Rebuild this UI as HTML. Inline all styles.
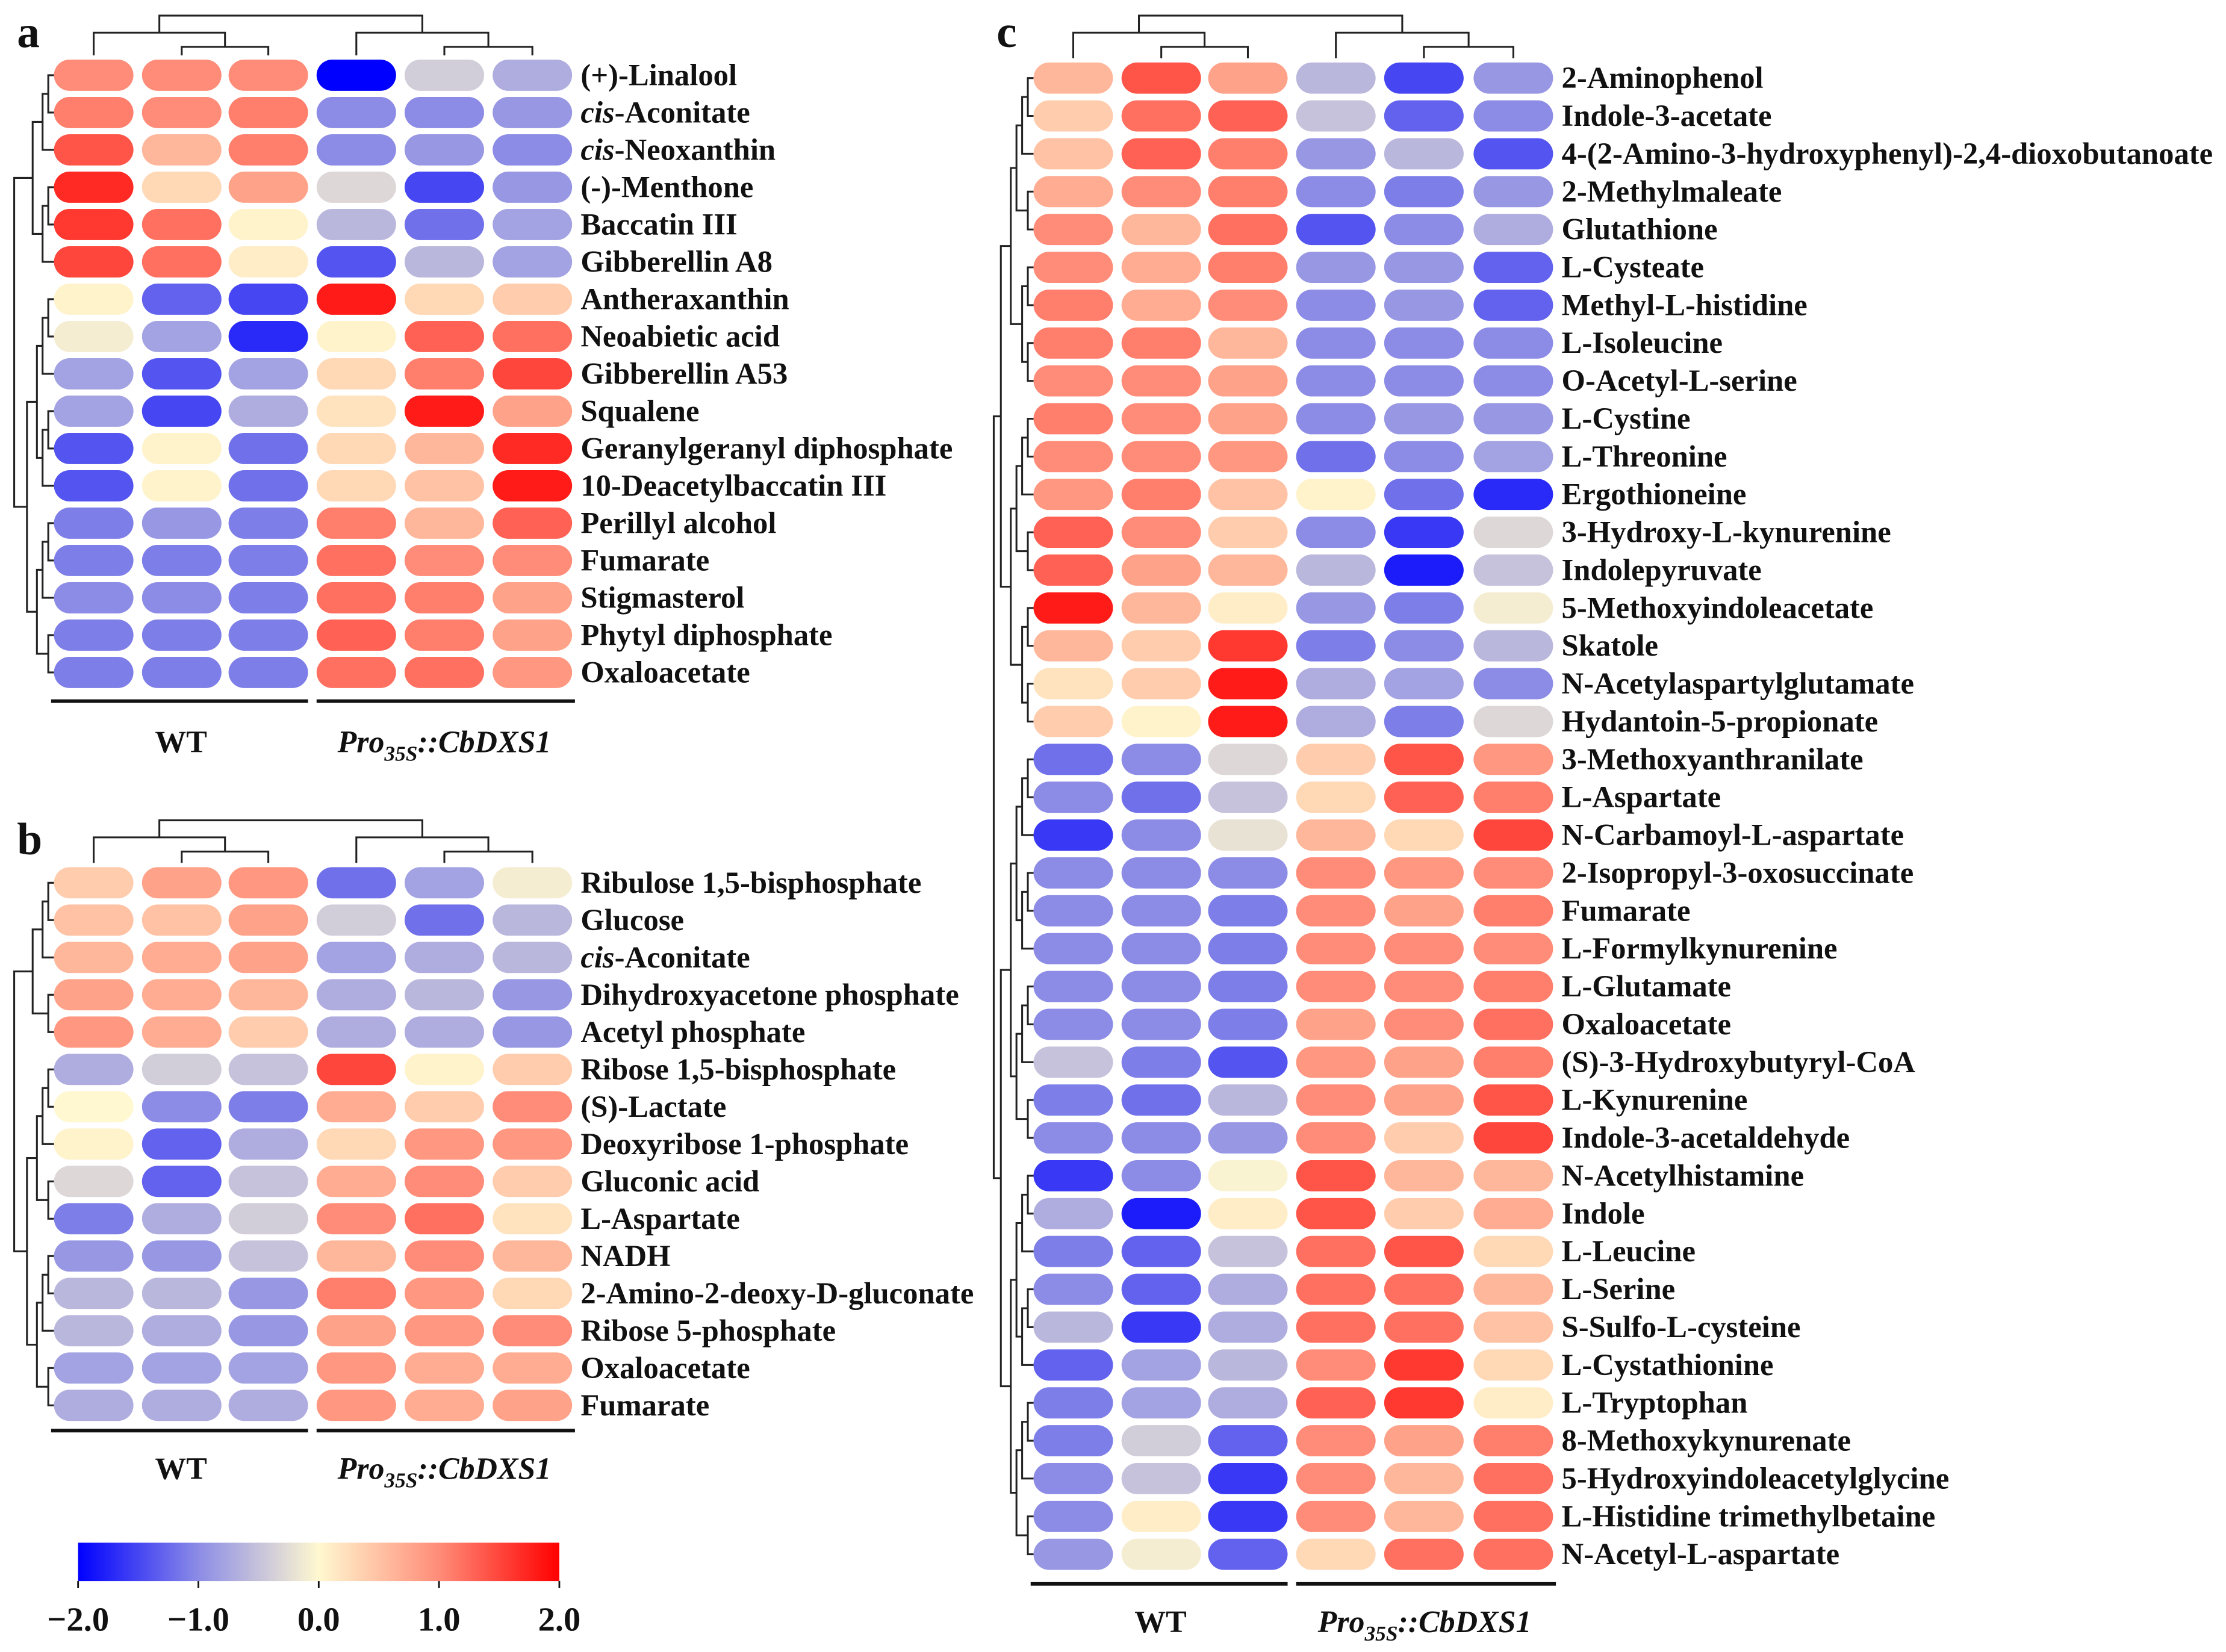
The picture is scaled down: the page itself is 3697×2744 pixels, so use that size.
<!DOCTYPE html>
<html><head><meta charset="utf-8">
<style>
html,body{margin:0;padding:0;background:#fff;}
svg{display:block;}
text{font-family:"Liberation Serif",serif;font-weight:bold;fill:#111;}
</style></head>
<body>
<svg id="fig" width="3697" height="2744" viewBox="0 0 1568 1164" preserveAspectRatio="none" xmlns="http://www.w3.org/2000/svg">
<defs>
<linearGradient id="cbar" x1="0" x2="1" y1="0" y2="0">
<stop offset="0" stop-color="#0000ff"/>
<stop offset="0.25" stop-color="#8c8ce6"/>
<stop offset="0.5" stop-color="#fff8d0"/>
<stop offset="0.75" stop-color="#ff8c78"/>
<stop offset="1" stop-color="#ff0000"/>
</linearGradient>
</defs>
<g id="root"></g>
</svg>
<script>
const labelsA=["(+)-Linalool","cis-Aconitate","cis-Neoxanthin","(-)-Menthone","Baccatin III","Gibberellin A8","Antheraxanthin","Neoabietic acid","Gibberellin A53","Squalene","Geranylgeranyl diphosphate","10-Deacetylbaccatin III","Perillyl alcohol","Fumarate","Stigmasterol","Phytyl diphosphate","Oxaloacetate"];
const valuesA=[[1.0,1.0,1.0,-2.0,-0.4,-0.7],[1.1,1.0,1.1,-1.0,-1.0,-0.9],[1.4,0.6,1.1,-1.0,-0.9,-1.0],[1.7,0.3,0.8,-0.3,-1.5,-0.9],[1.6,1.2,0.05,-0.6,-1.2,-0.8],[1.5,1.2,0.1,-1.4,-0.6,-0.8],[0.05,-1.3,-1.5,1.8,0.3,0.4],[-0.1,-0.8,-1.7,0.05,1.3,1.2],[-0.8,-1.4,-0.8,0.3,1.1,1.5],[-0.8,-1.5,-0.7,0.2,1.8,0.8],[-1.4,0.05,-1.2,0.3,0.6,1.7],[-1.4,0.05,-1.2,0.3,0.5,1.8],[-1.1,-0.9,-1.1,1.1,0.6,1.3],[-1.1,-1.1,-1.1,1.2,1.0,1.0],[-1.0,-1.0,-1.1,1.2,1.1,0.8],[-1.1,-1.1,-1.1,1.3,1.1,0.8],[-1.1,-1.1,-1.1,1.2,1.2,0.9]];
const labelsB=["Ribulose 1,5-bisphosphate","Glucose","cis-Aconitate","Dihydroxyacetone phosphate","Acetyl phosphate","Ribose 1,5-bisphosphate","(S)-Lactate","Deoxyribose 1-phosphate","Gluconic acid","L-Aspartate","NADH","2-Amino-2-deoxy-D-gluconate","Ribose 5-phosphate","Oxaloacetate","Fumarate"];
const valuesB=[[0.4,0.8,0.9,-1.2,-0.8,-0.1],[0.5,0.5,0.8,-0.4,-1.2,-0.6],[0.6,0.7,0.8,-0.8,-0.7,-0.6],[0.8,0.7,0.6,-0.7,-0.6,-0.9],[0.9,0.7,0.4,-0.7,-0.7,-0.9],[-0.7,-0.4,-0.5,1.5,0.05,0.4],[0.0,-1.0,-1.1,0.7,0.4,1.0],[0.05,-1.3,-0.7,0.3,0.9,0.9],[-0.3,-1.3,-0.5,0.7,1.0,0.4],[-1.1,-0.7,-0.4,1.0,1.2,0.2],[-0.9,-0.9,-0.5,0.6,1.0,0.6],[-0.6,-0.6,-0.9,1.1,0.9,0.3],[-0.6,-0.7,-0.9,0.8,0.9,1.0],[-0.8,-0.8,-0.8,0.9,0.7,0.7],[-0.7,-0.7,-0.7,0.9,0.7,0.8]];
const labelsC=["2-Aminophenol","Indole-3-acetate","4-(2-Amino-3-hydroxyphenyl)-2,4-dioxobutanoate","2-Methylmaleate","Glutathione","L-Cysteate","Methyl-L-histidine","L-Isoleucine","O-Acetyl-L-serine","L-Cystine","L-Threonine","Ergothioneine","3-Hydroxy-L-kynurenine","Indolepyruvate","5-Methoxyindoleacetate","Skatole","N-Acetylaspartylglutamate","Hydantoin-5-propionate","3-Methoxyanthranilate","L-Aspartate","N-Carbamoyl-L-aspartate","2-Isopropyl-3-oxosuccinate","Fumarate","L-Formylkynurenine","L-Glutamate","Oxaloacetate","(S)-3-Hydroxybutyryl-CoA","L-Kynurenine","Indole-3-acetaldehyde","N-Acetylhistamine","Indole","L-Leucine","L-Serine","S-Sulfo-L-cysteine","L-Cystathionine","L-Tryptophan","8-Methoxykynurenate","5-Hydroxyindoleacetylglycine","L-Histidine trimethylbetaine","N-Acetyl-L-aspartate"];
const valuesC=[[0.6,1.4,0.8,-0.6,-1.5,-0.9],[0.4,1.2,1.3,-0.5,-1.3,-1.0],[0.5,1.3,1.1,-0.9,-0.6,-1.4],[0.7,1.0,1.1,-1.0,-1.1,-0.9],[1.0,0.6,1.2,-1.4,-1.0,-0.7],[1.0,0.7,1.1,-0.9,-0.9,-1.3],[1.1,0.7,1.0,-1.0,-0.9,-1.3],[1.1,1.1,0.6,-1.0,-1.0,-1.0],[1.0,1.0,0.8,-1.0,-1.0,-1.0],[1.1,1.0,0.8,-1.0,-0.9,-0.9],[1.0,1.0,0.9,-1.2,-1.0,-0.8],[0.9,1.1,0.5,0.05,-1.2,-1.7],[1.3,1.0,0.4,-1.0,-1.6,-0.3],[1.3,0.8,0.6,-0.6,-1.8,-0.5],[1.8,0.6,0.1,-0.9,-1.1,-0.1],[0.6,0.4,1.6,-1.1,-1.0,-0.6],[0.2,0.4,1.8,-0.7,-0.8,-1.0],[0.4,0.05,1.8,-0.7,-1.1,-0.3],[-1.2,-1.0,-0.3,0.4,1.4,0.9],[-1.0,-1.2,-0.5,0.3,1.3,1.1],[-1.6,-1.0,-0.2,0.6,0.3,1.5],[-1.0,-1.0,-1.0,1.0,0.9,1.0],[-1.0,-1.0,-1.1,1.0,0.8,1.1],[-1.0,-1.0,-1.1,1.0,1.0,1.0],[-1.0,-1.0,-1.1,1.0,1.0,1.1],[-1.0,-1.0,-1.1,0.8,1.0,1.2],[-0.5,-1.1,-1.4,0.9,0.8,1.1],[-1.1,-1.2,-0.6,1.0,0.8,1.4],[-1.0,-1.0,-0.9,1.0,0.4,1.5],[-1.6,-1.0,-0.05,1.4,0.6,0.6],[-0.7,-1.8,0.1,1.4,0.4,0.7],[-1.1,-1.3,-0.5,1.2,1.4,0.3],[-1.0,-1.3,-0.7,1.2,1.2,0.6],[-0.6,-1.6,-0.7,1.2,1.2,0.5],[-1.3,-0.8,-0.6,1.0,1.6,0.3],[-1.1,-0.8,-0.7,1.3,1.6,0.1],[-1.1,-0.4,-1.3,1.0,0.8,1.1],[-1.0,-0.5,-1.6,1.0,0.6,1.2],[-1.0,0.1,-1.6,1.0,0.6,1.2],[-0.9,-0.1,-1.3,0.3,1.2,1.2]];
const tickLabels=["\u22122.0","\u22121.0","0.0","1.0","2.0"];
const tickValues=[-2,-1,0,1,2];

const NS="http://www.w3.org/2000/svg";
const root=document.getElementById("root");
function mk(tag,attrs,parent){const e=document.createElementNS(NS,tag);for(const k in attrs)e.setAttribute(k,attrs[k]);(parent||root).appendChild(e);return e;}
const stops=[[-2,[0,0,255]],[-1,[140,140,230]],[0,[255,248,208]],[1,[255,140,120]],[2,[255,0,0]]];
function color(v){v=Math.max(-2,Math.min(2,v));for(let i=0;i<4;i++){const a=stops[i],b=stops[i+1];if(v<=b[0]){const t=(v-a[0])/(b[0]-a[0]);const c=a[1].map((x,j)=>Math.round(x+(b[1][j]-x)*t));return `rgb(${c[0]},${c[1]},${c[2]})`;}}return "red";}

function line(pts,p){const e=mk("polyline",{points:pts.map(q=>q.join(",")).join(" "),fill:"none",stroke:"#222","stroke-width":"1.3"},p);return e;}

function panel(id,labels,values,colX,y0,dy,labelX,lineY,grpY,dendTop){
  const g=mk("g",{});
  
  
  values.forEach((row,i)=>{
    const cy=y0+i*dy;
    row.forEach((v,j)=>{
      const r=mk("rect",{x:colX[j]-28,y:cy-11,width:56,height:22,rx:11,ry:11,fill:color(v)},g);
      
      
    });
    const t=mk("text",{x:labelX,y:cy+7,"font-size":21.5},g);
    const lab=labels[i];
    if(lab.startsWith("cis-")){const s=mk("tspan",{"font-style":"italic"},t);s.textContent="cis";const s2=mk("tspan",{},t);s2.textContent=lab.slice(3);}
    else t.textContent=lab;
    
    
  });
  const l1=mk("line",{x1:colX[0]-30,x2:colX[2]+28,y1:lineY,y2:lineY,stroke:"#111","stroke-width":2.5},g);
  
  
  const l2=mk("line",{x1:colX[3]-28,x2:colX[5]+30,y1:lineY,y2:lineY,stroke:"#111","stroke-width":2.5},g);
  
  
  const w=mk("text",{x:(colX[0]+colX[2])/2,y:grpY,"font-size":22,"text-anchor":"middle"},g);
  w.textContent="WT";
  
  
  const p=mk("text",{x:(colX[3]+colX[5])/2,y:grpY,"font-size":22,"text-anchor":"middle","font-style":"italic"},g);
  const a=mk("tspan",{},p);a.textContent="Pro";
  const b=mk("tspan",{"font-size":15,dy:6},p);b.textContent="35S";
  const c=mk("tspan",{dy:-6},p);c.textContent="::CbDXS1";
  
  
  const cg=mk("g",{},g);
  
  
  const t0=dendTop, b0=y0-14;
  const m12=(colX[1]+colX[2])/2, m45=(colX[4]+colX[5])/2;
  line([[colX[1],b0],[colX[1],t0+22],[colX[2],t0+22],[colX[2],b0]],cg);
  line([[colX[0],b0],[colX[0],t0+12],[m12,t0+12],[m12,t0+22]],cg);
  line([[colX[4],b0],[colX[4],t0+22],[colX[5],t0+22],[colX[5],b0]],cg);
  line([[colX[3],b0],[colX[3],t0+12],[m45,t0+12],[m45,t0+22]],cg);
  const L=(colX[0]+m12)/2, R=(colX[3]+m45)/2;
  line([[L,t0+12],[L,t0],[R,t0],[R,t0+12]],cg);
  const rg=mk("g",{},g);
  
  
  const xr=colX[0]-28, n=values.length;
  let split=0;for(let i=0;i<n;i++){if(values[i][0]+values[i][1]+values[i][2]>0)split=i+1;}
  function tree(s,e,depth){
    if(e-s<=0){return [xr,y0+s*dy];}
    const mid=Math.floor((s+e)/2);
    const a=tree(s,mid,depth+1), b=tree(mid+1,e,depth+1);
    const x=Math.max(xr-26,Math.min(a[0],b[0])-3-(depth<2?4:1));
    line([[a[0],a[1]],[x,a[1]],[x,b[1]],[b[0],b[1]]],rg);
    return [x,(a[1]+b[1])/2];
  }
  const A=tree(0,split-1,1), B=tree(split,n-1,1);
  const x=xr-28;
  line([[A[0],A[1]],[x,A[1]],[x,B[1]],[B[0],B[1]]],rg);
}
panel("a",labelsA,valuesA,[66,128,189,251,313,375],53,26.3,409,494,530,11);
panel("b",labelsB,valuesB,[66,128,189,251,313,375],622,26.3,409,1008,1042,578);
panel("c",labelsC,valuesC,[756,818,879,941,1003,1066],55,26.67,1100,1116,1150,11);

[["a",12,33],["b",12,602],["c",702,33]].forEach(([s,x,y])=>{
  const t=mk("text",{x:x,y:y,"font-size":32});t.textContent=s;
  
  
});
const cb=mk("g",{});


const cbr=mk("rect",{x:55,y:1087,width:339,height:27,fill:"url(#cbar)"},cb);


const cbx=v=>55+(v+2)/4*339;
tickValues.forEach((v,i)=>{
  const tk=mk("line",{x1:cbx(v),x2:cbx(v),y1:1114,y2:1119,stroke:"#111","stroke-width":1.2},cb);
  
  
  const t=mk("text",{x:cbx(v),y:1149,"font-size":24,"text-anchor":"middle"},cb);
  t.textContent=tickLabels[i];
  
  
});
</script>
</body></html>
